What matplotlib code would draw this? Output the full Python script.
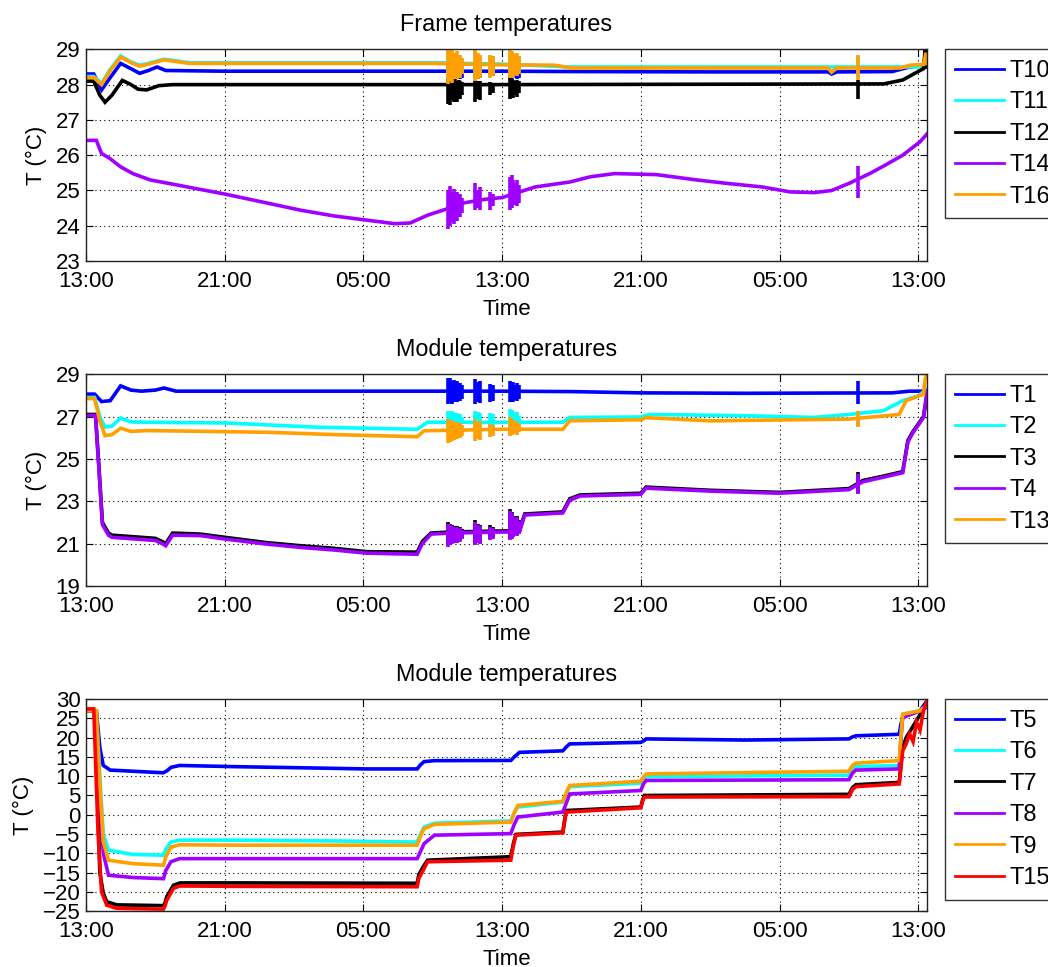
import matplotlib
matplotlib.use("Agg")
import matplotlib.pyplot as plt

plt.rcParams['font.family'] = ['Liberation Sans', 'DejaVu Sans']

# ---------------- time axis (hours after 13:00 on day 1) ----------------
TICK_HOURS = [0, 8, 16, 24, 32, 40, 48]
TICK_LABELS = ['13:00', '21:00', '05:00', '13:00', '21:00', '05:00', '13:00']
# times of the short disturbance bursts (hours)
BURST_T = [20.9, 21.0, 21.1, 21.2, 21.3, 21.4, 21.5, 21.6, 21.7,
           22.45, 22.6, 22.75,
           23.3, 23.45,
           24.45, 24.55, 24.65, 24.75, 24.85, 24.95,
           44.5]

# ---------------- Panel 1: Frame temperatures ----------------
T10_t = [0, 0.45, 0.9, 1.4, 2.0, 2.6, 3.1, 3.6, 4.1, 4.6, 8, 16, 20, 24, 28, 36, 42.8, 43.0, 43.3, 46.5, 47.5, 48.5]
T10_y = [28.3, 28.3, 27.85, 28.2, 28.6, 28.45, 28.32, 28.4, 28.5, 28.4, 28.38, 28.38, 28.38, 28.38, 28.37, 28.36, 28.36, 28.3, 28.36, 28.37, 28.5, 28.55]
T11_t = [0, 0.45, 0.9, 1.4, 2.0, 2.6, 3.1, 3.6, 4.5, 6, 20, 24, 28, 48, 48.5]
T11_y = [28.23, 28.23, 28.03, 28.43, 28.81, 28.64, 28.55, 28.6, 28.72, 28.62, 28.62, 28.58, 28.5, 28.5, 28.58]
T12_t = [0, 0.45, 0.8, 1.1, 1.5, 2.1, 2.6, 3.0, 3.5, 4.2, 5, 24, 46, 47.1, 48.1, 48.3, 48.4, 48.5]
T12_y = [28.1, 28.1, 27.7, 27.5, 27.7, 28.12, 28.0, 27.87, 27.85, 27.97, 28.0, 28.0, 28.02, 28.13, 28.4, 28.45, 29.0, 28.5]
T14_t = [0, 0.6, 0.9, 1.4, 2.0, 2.7, 3.7, 5.0, 6.6, 8.0, 10.4, 12.4, 14.3, 16.2, 17.8, 18.7, 19.7, 20.7, 21.8, 23, 24,
         25.9, 27.9, 29.1, 30.5, 32.9, 35.2, 37, 39, 40.6, 42, 43, 44, 45.2, 46.1, 47.1, 48.1, 48.5]
T14_y = [26.42, 26.42, 26.05, 25.9, 25.67, 25.48, 25.3, 25.18, 25.03, 24.9, 24.65, 24.44, 24.28, 24.16, 24.06, 24.08, 24.3, 24.46, 24.65, 24.75, 24.8,
         25.1, 25.24, 25.39, 25.48, 25.45, 25.3, 25.2, 25.1, 24.96, 24.94, 25.0, 25.2, 25.48, 25.72, 26.0, 26.38, 26.6]
T16_t = [0, 0.45, 0.9, 1.4, 2.0, 2.6, 3.1, 3.6, 4.5, 6, 20, 24, 27, 28, 42.8, 43.0, 43.3, 47.0, 47.5, 48.3, 48.45, 48.5]
T16_y = [28.2, 28.2, 28.0, 28.4, 28.78, 28.62, 28.52, 28.58, 28.7, 28.6, 28.6, 28.56, 28.55, 28.47, 28.47, 28.35, 28.47, 28.47, 28.55, 28.57, 28.9, 28.6]

T10_bhi = [28.5, 28.55, 28.45, 28.55, 28.5, 28.45, 28.5, 28.45, 28.5, 28.5, 28.45, 28.5, 28.45, 28.45, 28.5, 28.5, 28.45, 28.5, 28.45, 28.5, 28.45]
T10_blo = [28.2, 28.15, 28.2, 28.2, 28.15, 28.2, 28.2, 28.15, 28.2, 28.2, 28.15, 28.2, 28.25, 28.25, 28.15, 28.15, 28.2, 28.2, 28.15, 28.2, 28.3]
T11_bhi = [28.95, 28.9, 28.95, 28.85, 28.8, 28.85, 28.8, 28.8, 28.75, 28.95, 28.85, 28.8, 28.8, 28.8, 28.95, 28.9, 28.85, 28.8, 28.85, 28.8, 28.8]
T11_blo = [28.1, 28.15, 28.1, 28.2, 28.25, 28.2, 28.3, 28.25, 28.3, 28.15, 28.2, 28.25, 28.25, 28.3, 28.25, 28.3, 28.25, 28.35, 28.3, 28.35, 28.2]
T12_bhi = [28.15, 28.18, 28.15, 28.12, 28.15, 28.1, 28.12, 28.1, 28.08, 28.13, 28.1, 28.1, 28.08, 28.05, 28.18, 28.15, 28.12, 28.1, 28.12, 28.1, 28.13]
T12_blo = [27.45, 27.42, 27.55, 27.5, 27.6, 27.5, 27.65, 27.6, 27.7, 27.51, 27.6, 27.55, 27.7, 27.75, 27.6, 27.65, 27.62, 27.7, 27.65, 27.75, 27.6]
T14_bhi = [25.0, 25.12, 24.95, 25.05, 24.9, 24.95, 24.85, 24.9, 24.8, 25.2, 25.0, 25.1, 24.96, 24.9, 25.39, 25.43, 25.3, 25.2, 25.3, 25.15, 25.7]
T14_blo = [23.92, 24.0, 24.1, 24.05, 24.2, 24.15, 24.3, 24.25, 24.35, 24.44, 24.5, 24.45, 24.44, 24.55, 24.44, 24.5, 24.6, 24.6, 24.55, 24.65, 24.8]
T16_bhi = [29.0, 28.95, 29.0, 28.9, 28.85, 28.95, 28.8, 28.85, 28.75, 29.0, 28.9, 28.85, 28.84, 28.8, 29.0, 28.95, 28.9, 28.85, 28.9, 28.8, 28.84]
T16_blo = [28.03, 28.1, 28.05, 28.15, 28.2, 28.15, 28.25, 28.2, 28.3, 28.1, 28.15, 28.2, 28.2, 28.25, 28.2, 28.25, 28.2, 28.3, 28.25, 28.3, 28.13]

# ---------------- Panel 2: Module temperatures (warm side) ----------------
T1_t = [0, 0.5, 0.9, 1.4, 2.0, 2.6, 3.2, 4.0, 4.5, 5.2, 8, 20, 24, 28, 32, 38, 46.5, 47.5, 48.3, 48.5]
T1_y = [28.06, 28.06, 27.71, 27.75, 28.45, 28.25, 28.2, 28.25, 28.35, 28.2, 28.2, 28.2, 28.2, 28.18, 28.12, 28.1, 28.12, 28.2, 28.2, 28.25]
T2_t = [0, 0.5, 0.8, 1.1, 1.5, 2.0, 2.6, 3.5, 8.0, 13.3, 19.1, 19.7, 24, 27.5, 27.9, 32.0, 32.5, 38, 42, 44, 46, 47.1, 48.0, 48.5]
T2_y = [27.9, 27.9, 27.0, 26.5, 26.55, 26.93, 26.75, 26.73, 26.7, 26.5, 26.4, 26.73, 26.73, 26.73, 26.96, 26.98, 27.1, 27.04, 26.96, 27.1, 27.28, 27.75, 27.98, 28.3]
T3_t = [0, 0.55, 0.75, 0.95, 1.3, 1.5, 4.0, 4.4, 4.6, 5.0, 6.6, 8.0, 10.4, 12.4, 14.3, 16.2, 19.1, 19.4, 19.9, 21.0, 24.0, 25.0, 25.3,
        27.5, 27.9, 28.5, 32.0, 32.3, 36, 40, 44, 44.8, 46.05, 47.1, 47.4, 47.7, 48.3, 48.5]
T3_y = [27.1, 27.1, 24.6, 22.0, 21.5, 21.4, 21.25, 21.1, 21.0, 21.5, 21.45, 21.3, 21.05, 20.9, 20.78, 20.62, 20.6, 21.1, 21.5, 21.55, 21.6, 21.6, 22.4,
        22.5, 23.12, 23.3, 23.38, 23.67, 23.52, 23.42, 23.6, 23.98, 24.2, 24.4, 25.87, 26.3, 27.0, 28.0]
T4_t = [0, 0.55, 0.75, 0.95, 1.3, 1.5, 4.0, 4.4, 4.6, 5.0, 6.6, 8.0, 10.4, 12.4, 14.3, 16.2, 19.1, 19.4, 19.9, 21.0, 24.0, 25.0, 25.3,
        27.5, 27.9, 28.5, 32.0, 32.3, 36, 40, 44, 44.8, 46.05, 47.1, 47.4, 47.7, 48.3, 48.5]
T4_y = [27.05, 27.05, 24.5, 21.9, 21.4, 21.3, 21.15, 21.0, 20.9, 21.4, 21.38, 21.22, 20.98, 20.82, 20.7, 20.55, 20.5, 21.0, 21.45, 21.5, 21.55, 21.55, 22.35,
        22.45, 23.05, 23.25, 23.33, 23.62, 23.48, 23.38, 23.55, 23.92, 24.15, 24.35, 25.8, 26.25, 26.95, 28.2]
T13_t = [0, 0.5, 0.8, 1.1, 1.5, 2.0, 2.6, 3.5, 10.4, 14.3, 19.1, 19.5, 24, 27.5, 27.9, 32.0, 32.3, 36, 44, 46.9, 47.3, 48.3, 48.4, 48.5]
T13_y = [27.85, 27.85, 26.8, 26.1, 26.15, 26.45, 26.3, 26.34, 26.26, 26.15, 26.05, 26.33, 26.4, 26.4, 26.8, 26.85, 26.95, 26.8, 26.88, 27.1, 27.75, 28.06, 28.8, 29.0]

T1_bhi = [28.84, 28.8, 28.7, 28.75, 28.6, 28.7, 28.55, 28.6, 28.5, 28.76, 28.65, 28.7, 28.53, 28.5, 28.69, 28.6, 28.65, 28.5, 28.6, 28.5, 28.66]
T1_blo = [27.59, 27.65, 27.6, 27.7, 27.75, 27.7, 27.8, 27.75, 27.85, 27.59, 27.7, 27.65, 27.67, 27.75, 27.67, 27.75, 27.7, 27.8, 27.75, 27.85, 27.59]
T2_bhi = [27.28, 27.2, 27.25, 27.15, 27.1, 27.15, 27.05, 27.1, 27.0, 27.28, 27.2, 27.15, 27.15, 27.1, 27.35, 27.3, 27.2, 27.1, 27.2, 27.05, 27.28]
T2_blo = [26.49, 26.55, 26.5, 26.6, 26.6, 26.55, 26.65, 26.6, 26.65, 26.34, 26.45, 26.4, 26.5, 26.55, 26.18, 26.3, 26.4, 26.5, 26.45, 26.55, 26.57]
T3_bhi = [22.03, 21.95, 21.9, 21.85, 21.8, 21.85, 21.75, 21.8, 21.7, 22.1, 21.95, 21.9, 21.87, 21.8, 22.65, 22.5, 22.3, 22.2, 22.3, 22.1, 24.38]
T3_blo = [20.95, 21.0, 21.05, 21.1, 21.15, 21.1, 21.2, 21.15, 21.25, 21.0, 21.1, 21.05, 21.2, 21.25, 21.2, 21.25, 21.35, 21.45, 21.4, 21.5, 23.4]
T4_bhi = [21.95, 21.9, 21.85, 21.8, 21.75, 21.8, 21.7, 21.75, 21.65, 22.0, 21.9, 21.85, 21.8, 21.75, 22.55, 22.45, 22.25, 22.15, 22.25, 22.05, 24.3]
T4_blo = [20.85, 20.95, 21.0, 21.05, 21.1, 21.05, 21.15, 21.1, 21.2, 20.93, 21.05, 21.0, 21.16, 21.2, 21.16, 21.2, 21.3, 21.4, 21.35, 21.45, 23.36]
T13_bhi = [26.88, 26.8, 26.85, 26.75, 26.7, 26.75, 26.65, 26.7, 26.6, 26.88, 26.75, 26.8, 26.65, 26.6, 26.96, 26.9, 26.8, 26.7, 26.8, 26.65, 27.28]
T13_blo = [25.74, 25.8, 25.85, 25.9, 26.0, 25.95, 26.05, 26.0, 26.1, 25.87, 25.95, 25.9, 26.02, 26.1, 26.1, 26.15, 26.2, 26.2, 26.15, 26.25, 26.49]

# ---------------- Panel 3: Module temperatures (cold side) ----------------
T5_t = [0, 0.6, 0.8, 1.0, 1.4, 2.7, 4.47, 4.7, 4.9, 5.4, 8.5, 12.4, 16.2, 19.1, 19.3, 19.5, 20.1, 24.5, 24.7, 25.0,
        27.5, 27.7, 27.9, 32.0, 32.2, 32.3, 38, 44, 44.2, 44.4, 46.9, 47.0, 47.1, 47.5, 48.1, 48.5]
T5_y = [27, 27, 17.5, 12.8, 11.6, 11.3, 10.9, 11.5, 12.3, 12.8, 12.5, 12.2, 11.9, 11.9, 13.0, 13.8, 14.05, 14.1, 15.0, 16.2,
        16.6, 17.6, 18.4, 18.8, 19.3, 19.7, 19.4, 19.7, 20.2, 20.5, 20.9, 23.5, 25.3, 26.0, 27.0, 29.6]
COLD_T = [0, 0.6, 0.8, 1.0, 1.3, 2.7, 4.47, 4.6, 4.9, 5.4, 8.5, 14.3, 19.1, 19.3, 19.5, 20.1, 24.5, 24.7, 24.9,
          27.5, 27.7, 27.9, 32.0, 32.15, 32.3, 44, 44.2, 44.4, 46.9, 47.0, 47.1, 48.1, 48.5]
T6_y = [27, 27, 10, -5, -9.2, -10.3, -10.5, -9.0, -7.1, -6.6, -6.6, -6.8, -7.1, -5.0, -3.2, -2.2, -1.6, 0.5, 2.0,
        3.3, 5.5, 7.3, 8.2, 9.2, 9.9, 10.3, 11.8, 12.5, 12.8, 20, 26.1, 27, 28]
T8_y = [27, 27, 5, -10, -15.7, -16.3, -16.6, -14.5, -12.2, -11.4, -11.4, -11.4, -11.4, -9.5, -7.5, -5.3, -4.9, -2.5, -0.6,
        0.7, 3.0, 5.4, 6.3, 8.0, 8.9, 9.1, 10.8, 11.6, 11.9, 20, 25.3, 27, 28]
T9_y = [27, 27, 8, -7, -11.8, -12.7, -13.1, -11, -8.4, -7.8, -7.9, -7.9, -7.9, -5.5, -3.6, -2.5, -1.9, 0.5, 2.4,
        3.5, 5.8, 7.6, 8.7, 9.8, 10.6, 11.3, 12.8, 13.4, 14.05, 20, 26.1, 27, 28.5]
T7_t = [0, 0.55, 0.8, 1.0, 1.2, 1.77, 4.47, 4.55, 4.66, 5.05, 5.43, 8.5, 19.1, 19.2, 19.45, 19.7, 24.5, 24.65, 24.8,
        27.5, 27.6, 27.7, 32.0, 32.1, 32.2, 44, 44.2, 44.4, 46.9, 47.1, 47.3, 48.1, 48.5]
T7_y = [27, 27, -15, -20.4, -22.6, -23.4, -23.6, -23.0, -21.3, -18.3, -17.7, -17.7, -17.8, -15.5, -13.5, -11.8, -10.9, -7.5, -5.1,
        -4.5, -1.5, 1.1, 2.0, 3.8, 5.0, 5.3, 7.0, 7.8, 8.4, 17.5, 20, 26, 29]
T15_t = [0, 0.45, 0.7, 0.9, 1.2, 1.77, 4.47, 4.55, 4.66, 5.05, 5.43, 8.5, 19.1, 19.2, 19.45, 19.7, 24.5, 24.65, 24.8,
         27.5, 27.6, 27.7, 32.0, 32.1, 32.2, 44, 44.2, 44.4, 46.9, 47.1, 47.3, 47.5, 47.7, 47.9, 48.1, 48.3, 48.5]
T15_y = [27.5, 27.5, -5, -20, -23.5, -24.3, -24.5, -23.8, -22.2, -19.1, -18.5, -18.6, -18.7, -16.5, -14.4, -12.2, -11.8, -8.0, -5.3,
         -4.7, -2.0, 0.7, 1.8, 3.5, 4.6, 4.7, 6.5, 7.3, 8.0, 16.6, 18.4, 21, 19, 24, 22, 27, 29.6]

BLUE = '#0000FF'
CYAN = '#00FFFF'
BLACK = '#000000'
PURPLE = '#A000FF'
ORANGE = '#FFA000'
RED = '#FF0000'

panels = [
    dict(title='Frame temperatures', ylim=(23, 29), yticks=[23, 24, 25, 26, 27, 28, 29],
         series=[('T10', T10_t, T10_y, BLUE, T10_bhi, T10_blo),
                 ('T11', T11_t, T11_y, CYAN, T11_bhi, T11_blo),
                 ('T12', T12_t, T12_y, BLACK, T12_bhi, T12_blo),
                 ('T14', T14_t, T14_y, PURPLE, T14_bhi, T14_blo),
                 ('T16', T16_t, T16_y, ORANGE, T16_bhi, T16_blo)]),
    dict(title='Module temperatures', ylim=(19, 29), yticks=[19, 21, 23, 25, 27, 29],
         series=[('T1', T1_t, T1_y, BLUE, T1_bhi, T1_blo),
                 ('T2', T2_t, T2_y, CYAN, T2_bhi, T2_blo),
                 ('T3', T3_t, T3_y, BLACK, T3_bhi, T3_blo),
                 ('T4', T4_t, T4_y, PURPLE, T4_bhi, T4_blo),
                 ('T13', T13_t, T13_y, ORANGE, T13_bhi, T13_blo)]),
    dict(title='Module temperatures', ylim=(-25, 30), yticks=list(range(-25, 31, 5)),
         series=[('T5', T5_t, T5_y, BLUE, None, None),
                 ('T6', COLD_T, T6_y, CYAN, None, None),
                 ('T7', T7_t, T7_y, BLACK, None, None),
                 ('T8', COLD_T, T8_y, PURPLE, None, None),
                 ('T9', COLD_T, T9_y, ORANGE, None, None),
                 ('T15', T15_t, T15_y, RED, None, None)]),
]

fig = plt.figure(figsize=(10.48, 9.67), dpi=100)
L, W = 0.082, 0.8025
bottoms = [0.730, 0.394, 0.0579]
H = 0.219
FS = 16

for p, b in zip(panels, bottoms):
    ax = fig.add_axes([L, b, W, H])
    handles = []
    for name, t, y, c, bhi, blo in p['series']:
        ln, = ax.plot(t, y, color=c, lw=2.6, label=name, solid_joinstyle='miter')
        if bhi is not None:
            ax.vlines(BURST_T, blo, bhi, color=c, lw=2.6)
        handles.append(ln)
    ax.set_xlim(0, 48.5)
    ax.set_ylim(*p['ylim'])
    ax.set_xticks(TICK_HOURS)
    ax.set_xticklabels(TICK_LABELS)
    ax.set_yticks(p['yticks'])
    ax.tick_params(direction='in', top=True, right=True, length=5, width=0.8,
                   labelsize=FS)
    ax.tick_params(axis='x', pad=7)
    ax.tick_params(axis='y', pad=4)
    ax.grid(True, color='black', linestyle=(0, (1, 3)), lw=0.8)
    for s in ax.spines.values():
        s.set_linewidth(1.0)
        s.set_color('#222222')
    ax.set_title(p['title'], fontsize=16.8, pad=13)
    ax.set_xlabel('Time', fontsize=FS, labelpad=5.5)
    ax.set_ylabel('T (°C)', fontsize=FS, labelpad=6)
    leg = ax.legend(handles=handles, loc='upper left', bbox_to_anchor=(1.021, 1.0),
                    borderaxespad=0, fontsize=FS + 1, frameon=True, fancybox=False,
                    edgecolor='black', handlelength=2.05, handletextpad=0.25,
                    labelspacing=0.4, borderpad=0.45)
    leg.get_frame().set_linewidth(1.0)
    for lh in leg.get_lines():
        lh.set_linewidth(2.0)

fig.savefig('out.png', dpi=100, facecolor='white')
